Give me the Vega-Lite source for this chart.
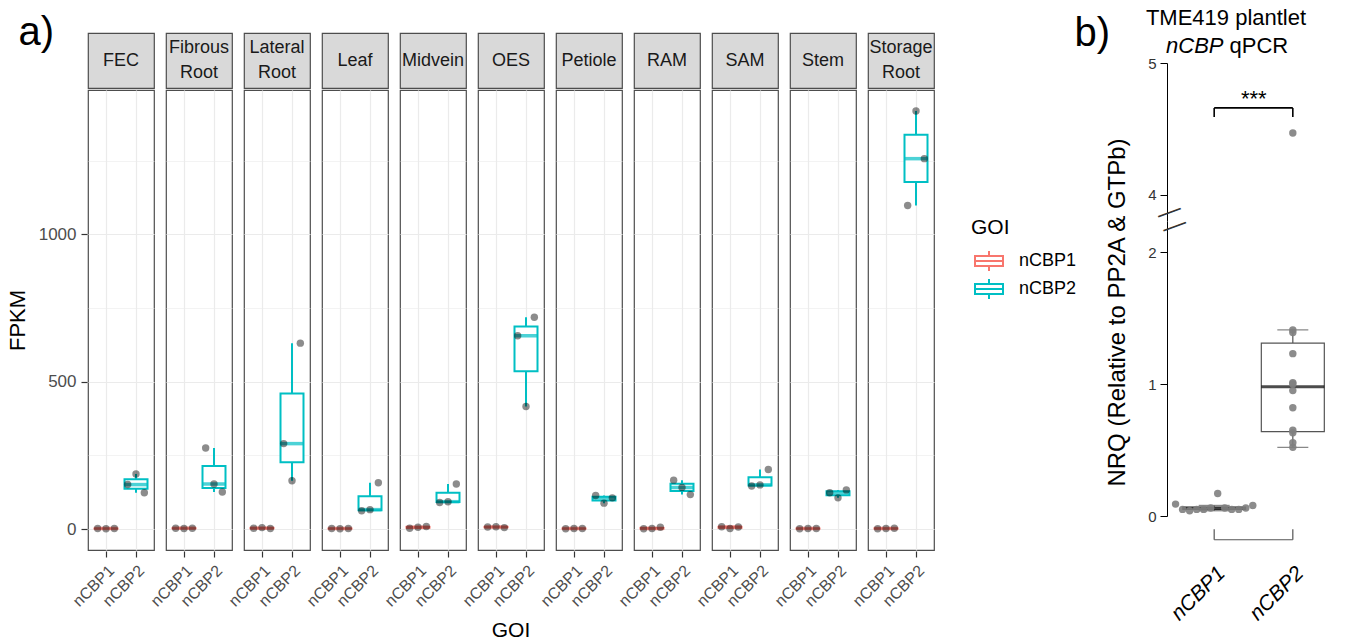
{
  "$schema": "https://vega.github.io/schema/vega-lite/v6.json",
  "background": "white",
  "padding": {"left": 0, "top": 7, "right": 5, "bottom": 0},
  "config": {"font": "Liberation Sans", "view": {"stroke": null}},
  "datasets": {
    "rnaseq": [
      {"kind": "box", "tissue": "FEC", "GOI": "nCBP1", "lower": 1, "q1": 1.5, "median": 2, "q3": 2, "upper": 2},
      {"kind": "box", "tissue": "FEC", "GOI": "nCBP2", "lower": 123, "q1": 137, "median": 151, "q3": 169, "upper": 187},
      {"kind": "box", "tissue": "Fibrous Root", "GOI": "nCBP1", "lower": 2, "q1": 2.5, "median": 3, "q3": 3, "upper": 3},
      {"kind": "box", "tissue": "Fibrous Root", "GOI": "nCBP2", "lower": 126, "q1": 139.5, "median": 153, "q3": 214, "upper": 275},
      {"kind": "box", "tissue": "Lateral Root", "GOI": "nCBP1", "lower": 2, "q1": 2.5, "median": 3, "q3": 4, "upper": 5},
      {"kind": "box", "tissue": "Lateral Root", "GOI": "nCBP2", "lower": 164, "q1": 227, "median": 290, "q3": 460.5, "upper": 631},
      {"kind": "box", "tissue": "Leaf", "GOI": "nCBP1", "lower": 1, "q1": 1.5, "median": 2, "q3": 2, "upper": 2},
      {"kind": "box", "tissue": "Leaf", "GOI": "nCBP2", "lower": 62, "q1": 64, "median": 66, "q3": 111.5, "upper": 157},
      {"kind": "box", "tissue": "Midvein", "GOI": "nCBP1", "lower": 3, "q1": 4.5, "median": 6, "q3": 7.5, "upper": 9},
      {"kind": "box", "tissue": "Midvein", "GOI": "nCBP2", "lower": 90, "q1": 91.5, "median": 93, "q3": 123, "upper": 153},
      {"kind": "box", "tissue": "OES", "GOI": "nCBP1", "lower": 5, "q1": 6, "median": 7, "q3": 7.5, "upper": 8},
      {"kind": "box", "tissue": "OES", "GOI": "nCBP2", "lower": 416, "q1": 536, "median": 656, "q3": 687.5, "upper": 719},
      {"kind": "box", "tissue": "Petiole", "GOI": "nCBP1", "lower": 1, "q1": 1.5, "median": 2, "q3": 2, "upper": 2},
      {"kind": "box", "tissue": "Petiole", "GOI": "nCBP2", "lower": 88, "q1": 97, "median": 106, "q3": 110, "upper": 114},
      {"kind": "box", "tissue": "RAM", "GOI": "nCBP1", "lower": 1, "q1": 1.5, "median": 2, "q3": 4, "upper": 6},
      {"kind": "box", "tissue": "RAM", "GOI": "nCBP2", "lower": 117, "q1": 129, "median": 141, "q3": 153.5, "upper": 166},
      {"kind": "box", "tissue": "SAM", "GOI": "nCBP1", "lower": 2, "q1": 4.5, "median": 7, "q3": 7.5, "upper": 8},
      {"kind": "box", "tissue": "SAM", "GOI": "nCBP2", "lower": 146, "q1": 148, "median": 150, "q3": 176, "upper": 202},
      {"kind": "box", "tissue": "Stem", "GOI": "nCBP1", "lower": 1, "q1": 1.5, "median": 2, "q3": 2, "upper": 2},
      {"kind": "box", "tissue": "Stem", "GOI": "nCBP2", "lower": 106, "q1": 114.5, "median": 123, "q3": 128, "upper": 133},
      {"kind": "box", "tissue": "Storage Root", "GOI": "nCBP1", "lower": 1, "q1": 1.5, "median": 2, "q3": 2.5, "upper": 3},
      {"kind": "box", "tissue": "Storage Root", "GOI": "nCBP2", "lower": 1098, "q1": 1177.5, "median": 1257, "q3": 1338, "upper": 1419},
      {"kind": "pt", "tissue": "FEC", "GOI": "nCBP1", "rep": 1, "FPKM": 2},
      {"kind": "pt", "tissue": "FEC", "GOI": "nCBP1", "rep": 2, "FPKM": 1},
      {"kind": "pt", "tissue": "FEC", "GOI": "nCBP1", "rep": 3, "FPKM": 2},
      {"kind": "pt", "tissue": "FEC", "GOI": "nCBP2", "rep": 1, "FPKM": 151},
      {"kind": "pt", "tissue": "FEC", "GOI": "nCBP2", "rep": 2, "FPKM": 187},
      {"kind": "pt", "tissue": "FEC", "GOI": "nCBP2", "rep": 3, "FPKM": 123},
      {"kind": "pt", "tissue": "Fibrous Root", "GOI": "nCBP1", "rep": 1, "FPKM": 3},
      {"kind": "pt", "tissue": "Fibrous Root", "GOI": "nCBP1", "rep": 2, "FPKM": 2},
      {"kind": "pt", "tissue": "Fibrous Root", "GOI": "nCBP1", "rep": 3, "FPKM": 3},
      {"kind": "pt", "tissue": "Fibrous Root", "GOI": "nCBP2", "rep": 1, "FPKM": 275},
      {"kind": "pt", "tissue": "Fibrous Root", "GOI": "nCBP2", "rep": 2, "FPKM": 153},
      {"kind": "pt", "tissue": "Fibrous Root", "GOI": "nCBP2", "rep": 3, "FPKM": 126},
      {"kind": "pt", "tissue": "Lateral Root", "GOI": "nCBP1", "rep": 1, "FPKM": 3},
      {"kind": "pt", "tissue": "Lateral Root", "GOI": "nCBP1", "rep": 2, "FPKM": 5},
      {"kind": "pt", "tissue": "Lateral Root", "GOI": "nCBP1", "rep": 3, "FPKM": 2},
      {"kind": "pt", "tissue": "Lateral Root", "GOI": "nCBP2", "rep": 1, "FPKM": 290},
      {"kind": "pt", "tissue": "Lateral Root", "GOI": "nCBP2", "rep": 2, "FPKM": 164},
      {"kind": "pt", "tissue": "Lateral Root", "GOI": "nCBP2", "rep": 3, "FPKM": 631},
      {"kind": "pt", "tissue": "Leaf", "GOI": "nCBP1", "rep": 1, "FPKM": 2},
      {"kind": "pt", "tissue": "Leaf", "GOI": "nCBP1", "rep": 2, "FPKM": 1},
      {"kind": "pt", "tissue": "Leaf", "GOI": "nCBP1", "rep": 3, "FPKM": 2},
      {"kind": "pt", "tissue": "Leaf", "GOI": "nCBP2", "rep": 1, "FPKM": 62},
      {"kind": "pt", "tissue": "Leaf", "GOI": "nCBP2", "rep": 2, "FPKM": 66},
      {"kind": "pt", "tissue": "Leaf", "GOI": "nCBP2", "rep": 3, "FPKM": 157},
      {"kind": "pt", "tissue": "Midvein", "GOI": "nCBP1", "rep": 1, "FPKM": 3},
      {"kind": "pt", "tissue": "Midvein", "GOI": "nCBP1", "rep": 2, "FPKM": 6},
      {"kind": "pt", "tissue": "Midvein", "GOI": "nCBP1", "rep": 3, "FPKM": 9},
      {"kind": "pt", "tissue": "Midvein", "GOI": "nCBP2", "rep": 1, "FPKM": 90},
      {"kind": "pt", "tissue": "Midvein", "GOI": "nCBP2", "rep": 2, "FPKM": 93},
      {"kind": "pt", "tissue": "Midvein", "GOI": "nCBP2", "rep": 3, "FPKM": 153},
      {"kind": "pt", "tissue": "OES", "GOI": "nCBP1", "rep": 1, "FPKM": 7},
      {"kind": "pt", "tissue": "OES", "GOI": "nCBP1", "rep": 2, "FPKM": 8},
      {"kind": "pt", "tissue": "OES", "GOI": "nCBP1", "rep": 3, "FPKM": 5},
      {"kind": "pt", "tissue": "OES", "GOI": "nCBP2", "rep": 1, "FPKM": 656},
      {"kind": "pt", "tissue": "OES", "GOI": "nCBP2", "rep": 2, "FPKM": 416},
      {"kind": "pt", "tissue": "OES", "GOI": "nCBP2", "rep": 3, "FPKM": 719},
      {"kind": "pt", "tissue": "Petiole", "GOI": "nCBP1", "rep": 1, "FPKM": 1},
      {"kind": "pt", "tissue": "Petiole", "GOI": "nCBP1", "rep": 2, "FPKM": 2},
      {"kind": "pt", "tissue": "Petiole", "GOI": "nCBP1", "rep": 3, "FPKM": 2},
      {"kind": "pt", "tissue": "Petiole", "GOI": "nCBP2", "rep": 1, "FPKM": 114},
      {"kind": "pt", "tissue": "Petiole", "GOI": "nCBP2", "rep": 2, "FPKM": 88},
      {"kind": "pt", "tissue": "Petiole", "GOI": "nCBP2", "rep": 3, "FPKM": 106},
      {"kind": "pt", "tissue": "RAM", "GOI": "nCBP1", "rep": 1, "FPKM": 1},
      {"kind": "pt", "tissue": "RAM", "GOI": "nCBP1", "rep": 2, "FPKM": 2},
      {"kind": "pt", "tissue": "RAM", "GOI": "nCBP1", "rep": 3, "FPKM": 6},
      {"kind": "pt", "tissue": "RAM", "GOI": "nCBP2", "rep": 1, "FPKM": 166},
      {"kind": "pt", "tissue": "RAM", "GOI": "nCBP2", "rep": 2, "FPKM": 141},
      {"kind": "pt", "tissue": "RAM", "GOI": "nCBP2", "rep": 3, "FPKM": 117},
      {"kind": "pt", "tissue": "SAM", "GOI": "nCBP1", "rep": 1, "FPKM": 8},
      {"kind": "pt", "tissue": "SAM", "GOI": "nCBP1", "rep": 2, "FPKM": 2},
      {"kind": "pt", "tissue": "SAM", "GOI": "nCBP1", "rep": 3, "FPKM": 7},
      {"kind": "pt", "tissue": "SAM", "GOI": "nCBP2", "rep": 1, "FPKM": 146},
      {"kind": "pt", "tissue": "SAM", "GOI": "nCBP2", "rep": 2, "FPKM": 150},
      {"kind": "pt", "tissue": "SAM", "GOI": "nCBP2", "rep": 3, "FPKM": 202},
      {"kind": "pt", "tissue": "Stem", "GOI": "nCBP1", "rep": 1, "FPKM": 1},
      {"kind": "pt", "tissue": "Stem", "GOI": "nCBP1", "rep": 2, "FPKM": 2},
      {"kind": "pt", "tissue": "Stem", "GOI": "nCBP1", "rep": 3, "FPKM": 2},
      {"kind": "pt", "tissue": "Stem", "GOI": "nCBP2", "rep": 1, "FPKM": 123},
      {"kind": "pt", "tissue": "Stem", "GOI": "nCBP2", "rep": 2, "FPKM": 106},
      {"kind": "pt", "tissue": "Stem", "GOI": "nCBP2", "rep": 3, "FPKM": 133},
      {"kind": "pt", "tissue": "Storage Root", "GOI": "nCBP1", "rep": 1, "FPKM": 1},
      {"kind": "pt", "tissue": "Storage Root", "GOI": "nCBP1", "rep": 2, "FPKM": 2},
      {"kind": "pt", "tissue": "Storage Root", "GOI": "nCBP1", "rep": 3, "FPKM": 3},
      {"kind": "pt", "tissue": "Storage Root", "GOI": "nCBP2", "rep": 1, "FPKM": 1098},
      {"kind": "pt", "tissue": "Storage Root", "GOI": "nCBP2", "rep": 2, "FPKM": 1419},
      {"kind": "pt", "tissue": "Storage Root", "GOI": "nCBP2", "rep": 3, "FPKM": 1257}
    ],
    "qpcr": [
      {"GOI": "nCBP1", "rep": 1, "NRQ": 0.09},
      {"GOI": "nCBP1", "rep": 2, "NRQ": 0.05},
      {"GOI": "nCBP1", "rep": 3, "NRQ": 0.04},
      {"GOI": "nCBP1", "rep": 4, "NRQ": 0.05},
      {"GOI": "nCBP1", "rep": 5, "NRQ": 0.05},
      {"GOI": "nCBP1", "rep": 6, "NRQ": 0.06},
      {"GOI": "nCBP1", "rep": 7, "NRQ": 0.17},
      {"GOI": "nCBP1", "rep": 8, "NRQ": 0.06},
      {"GOI": "nCBP1", "rep": 9, "NRQ": 0.05},
      {"GOI": "nCBP1", "rep": 10, "NRQ": 0.05},
      {"GOI": "nCBP1", "rep": 11, "NRQ": 0.06},
      {"GOI": "nCBP1", "rep": 12, "NRQ": 0.08},
      {"GOI": "nCBP2", "rep": 1, "NRQ": 1.41},
      {"GOI": "nCBP2", "rep": 2, "NRQ": 1.39},
      {"GOI": "nCBP2", "rep": 3, "NRQ": 1.23},
      {"GOI": "nCBP2", "rep": 4, "NRQ": 1.01},
      {"GOI": "nCBP2", "rep": 5, "NRQ": 1.0},
      {"GOI": "nCBP2", "rep": 6, "NRQ": 0.95},
      {"GOI": "nCBP2", "rep": 7, "NRQ": 0.82},
      {"GOI": "nCBP2", "rep": 8, "NRQ": 0.65},
      {"GOI": "nCBP2", "rep": 9, "NRQ": 0.63},
      {"GOI": "nCBP2", "rep": 10, "NRQ": 0.555},
      {"GOI": "nCBP2", "rep": 11, "NRQ": 0.52},
      {"GOI": "nCBP2", "rep": 12, "NRQ": 4.47}
    ],
    "qbox": [
      {"GOI": "nCBP1", "lower": 0.04, "q1": 0.05, "median": 0.058, "q3": 0.068, "upper": 0.08},
      {"GOI": "nCBP2", "lower": 0.52, "q1": 0.64, "median": 0.98, "q3": 1.31, "upper": 1.41}
    ],
    "sig": [{"group1": "nCBP1", "group2": "nCBP2", "label": "***"}]
  },
  "resolve": {"scale": {"x": "independent", "y": "independent", "color": "independent", "stroke": "independent", "xOffset": "independent"}},
  "spacing": -3,
  "hconcat": [
    {
      "spacing": 0,
      "resolve": {"scale": {"x": "independent", "y": "independent"}},
      "vconcat": [
        {
          "data": {"name": "rnaseq"},
          "transform": [{"filter": "datum.kind === 'box' && datum.GOI === 'nCBP1'"}],
          "facet": {"column": {"field": "tissue", "type": "nominal", "header": {"labels": false, "title": null}}},
          "spacing": 10,
          "spec": {
            "width": 66,
            "height": 55,
            "view": {"fill": "#D9D9D9", "stroke": "#4D4D4D", "strokeWidth": 1.2},
            "encoding": {
              "y": {"datum": 0, "type": "quantitative", "scale": {"domain": [-1, 1]},
                "axis": {"values": [0], "labelExpr": "'00000000'", "labelColor": "transparent", "labelFontSize": 17, "labelPadding": 5, "tickSize": 6, "tickColor": "transparent", "domain": false, "grid": false, "title": "a)", "titleFontSize": 40, "titleFontWeight": "normal", "titleColor": "black", "titleAngle": 0, "titleAlign": "left", "titleBaseline": "alphabetic", "titleX": -69, "titleY": 11}},
              "text": {"field": "tissue", "type": "nominal"}
            },
            "layer": [
              {
                "transform": [{"filter": "indexof(datum.tissue, ' ') < 0"}],
                "mark": {"type": "text", "fontSize": 18, "color": "#1A1A1A", "baseline": "middle"}
              },
              {
                "transform": [{"filter": "indexof(datum.tissue, ' ') >= 0"}],
                "mark": {"type": "text", "lineBreak": " ", "fontSize": 18, "color": "#1A1A1A", "lineHeight": 25, "baseline": "middle", "dy": -12.5}
              }
            ]
          }
        },
        {
          "data": {"name": "rnaseq"},
          "facet": {"column": {"field": "tissue", "type": "nominal", "header": {"labels": false, "title": "GOI", "titleOrient": "bottom", "titleFontSize": 21, "titleFontWeight": "normal", "titleColor": "black", "titlePadding": 0}}},
          "spacing": 10,
          "spec": {
            "width": 66,
            "height": 460,
            "view": {"stroke": "#4D4D4D", "strokeWidth": 1.2},
            "encoding": {
              "x": {"field": "GOI", "type": "nominal", "scale": {"paddingInner": 0, "paddingOuter": 0.1},
                "axis": {"title": null, "labelAngle": -45, "labelAlign": "right", "labelBaseline": "top", "labelFontSize": 16, "labelColor": "#4D4D4D", "labelPadding": 5, "tickColor": "#333333", "tickSize": 6, "tickWidth": 1.2, "domain": false, "grid": true, "gridColor": "#EBEBEB", "gridWidth": 1.2, "bandPosition": 0.5}}
            },
            "layer": [
              {
                "transform": [{"filter": "datum.kind === 'box'"}],
                "mark": {"type": "rule", "strokeWidth": 2},
                "encoding": {
                  "y": {"field": "lower", "type": "quantitative", "title": "FPKM",
                    "scale": {"domain": [-71, 1490], "nice": false, "zero": false},
                    "axis": {"title": "FPKM", "values": [0, 250, 500, 750, 1000, 1250], "labelExpr": "datum.value % 500 === 0 ? datum.label : '00000000'", "format": "d", "labelFontSize": 17, "labelColor": {"condition": {"test": "datum.value % 500 === 0", "value": "#4D4D4D"}, "value": "transparent"}, "labelPadding": 5, "tickColor": "#333333", "tickSize": 6, "tickWidth": 1.2, "tickOpacity": {"condition": {"test": "datum.value % 500 === 0", "value": 1}, "value": 0}, "gridColor": "#EBEBEB", "gridWidth": {"condition": {"test": "datum.value % 500 === 0", "value": 1.2}, "value": 0.6}, "domain": false, "titleFontSize": 22, "titleFontWeight": "normal", "titleColor": "black", "titleAngle": -90, "titleAlign": "center", "titleBaseline": "top", "titleX": -80, "titleY": 230}},
                  "y2": {"field": "upper"},
                  "stroke": {"field": "GOI", "type": "nominal", "scale": {"range": ["#F8766D", "#00BFC4"]},
                    "legend": {"orient": "none", "legendX": 883, "legendY": 184, "title": "GOI", "titleFontSize": 21, "titleFontWeight": "normal", "titleColor": "black", "labelFontSize": 18, "labelColor": "black", "symbolType": "M-0.7,-0.5L2.1,-0.5L2.1,0.5L-0.7,0.5Z M-0.7,0L2.1,0 M0.7,-0.5L0.7,-1 M0.7,0.5L0.7,1", "symbolSize": 400, "symbolStrokeWidth": 2, "symbolFillColor": "white", "rowPadding": 0, "titlePadding": 12, "labelOffset": 26}}
                }
              },
              {
                "transform": [{"filter": "datum.kind === 'box'"}],
                "mark": {"type": "bar", "fill": "white", "strokeWidth": 2, "size": 23},
                "encoding": {
                  "y": {"field": "q1", "type": "quantitative", "title": "FPKM"},
                  "y2": {"field": "q3"},
                  "stroke": {"field": "GOI", "type": "nominal"}
                }
              },
              {
                "transform": [{"filter": "datum.kind === 'box'"}],
                "mark": {"type": "tick", "thickness": 3.5, "size": 23},
                "encoding": {
                  "y": {"field": "median", "type": "quantitative", "title": "FPKM"},
                  "color": {"field": "GOI", "type": "nominal", "scale": {"range": ["#F8766D", "#00BFC4"]}, "legend": null}
                }
              },
              {
                "transform": [{"filter": "datum.kind === 'pt'"}],
                "mark": {"type": "circle", "size": 55, "color": "black", "opacity": 0.45},
                "encoding": {
                  "y": {"field": "FPKM", "type": "quantitative", "title": "FPKM"},
                  "xOffset": {"field": "rep", "type": "ordinal", "scale": {"paddingInner": 0, "paddingOuter": 0.8}}
                }
              }
            ]
          }
        }
      ]
    },
    {
      "bounds": "flush",
      "spacing": 0,
      "resolve": {"scale": {"x": "independent", "y": "independent", "xOffset": "independent"}},
      "vconcat": [
        {
          "width": 173,
          "height": 30,
          "data": {"name": "sig"},
          "layer": [
            {"mark": {"type": "text", "text": "TME419 plantlet", "fontSize": 22, "color": "black", "align": "center", "baseline": "middle", "dx": -27.5, "dy": -30}, "encoding": {}},
            {"mark": {"type": "text", "text": "nCBP", "fontSize": 22, "fontStyle": "italic", "color": "black", "align": "right", "baseline": "middle", "dx": -30, "dy": -2}, "encoding": {}},
            {"mark": {"type": "text", "text": "qPCR", "fontSize": 22, "color": "black", "align": "left", "baseline": "middle", "dx": -24, "dy": -2}, "encoding": {}}
          ]
        },
        {
          "width": 173,
          "height": 158,
          "layer": [
            {
              "data": {"name": "qpcr"},
              "transform": [{"filter": "datum.NRQ >= 3.8"}],
              "mark": {"type": "circle", "size": 55, "color": "#7F7F7F", "opacity": 0.9},
              "encoding": {
                "x": {"field": "GOI", "type": "nominal", "scale": {"domain": ["nCBP1", "nCBP2"], "paddingInner": 0, "paddingOuter": 0.1}, "axis": null},
                "y": {"field": "NRQ", "type": "quantitative", "scale": {"domain": [3.803, 5], "nice": false, "zero": false},
                  "axis": {"values": [4, 5], "format": "d", "grid": false, "domainColor": "black", "tickColor": "black", "tickSize": 7, "labelFontSize": 15, "labelColor": "#333333", "labelPadding": 4, "title": "b)", "titleFontSize": 40, "titleFontWeight": "normal", "titleColor": "black", "titleAngle": 0, "titleAlign": "left", "titleBaseline": "alphabetic", "titleX": -93, "titleY": -18}}
              }
            },
            {
              "data": {"name": "sig"},
              "mark": {"type": "rule", "color": "black", "strokeWidth": 1.6},
              "encoding": {
                "x": {"field": "group1", "type": "nominal", "bandPosition": 0.5},
                "x2": {"field": "group2", "bandPosition": 0.5},
                "y": {"datum": 4.66}
              }
            },
            {
              "data": {"name": "sig"},
              "mark": {"type": "rule", "color": "black", "strokeWidth": 1.6},
              "encoding": {
                "x": {"field": "group1", "type": "nominal"},
                "y": {"datum": 4.66},
                "y2": {"datum": 4.59}
              }
            },
            {
              "data": {"name": "sig"},
              "mark": {"type": "rule", "color": "black", "strokeWidth": 1.6},
              "encoding": {
                "x": {"field": "group2", "type": "nominal"},
                "y": {"datum": 4.66},
                "y2": {"datum": 4.59}
              }
            },
            {
              "data": {"name": "sig"},
              "mark": {"type": "text", "fontSize": 22, "dx": -39, "baseline": "alphabetic", "color": "black"},
              "encoding": {
                "x": {"field": "group2", "type": "nominal"},
                "y": {"datum": 4.675},
                "text": {"field": "label"}
              }
            }
          ]
        },
        {
          "width": 173,
          "height": 295,
          "encoding": {
            "x": {"field": "GOI", "type": "nominal", "scale": {"domain": ["nCBP1", "nCBP2"], "paddingInner": 0, "paddingOuter": 0.1},
              "axis": {"title": null, "domain": false, "ticks": false, "labelAngle": -45, "labelAlign": "right", "labelBaseline": "top", "labelFontSize": 21, "labelFontStyle": "italic", "labelColor": "black", "labelPadding": 46}}
          },
          "layer": [
            {
              "data": {"name": "qbox"},
              "mark": {"type": "rule", "color": "#555555", "strokeWidth": 1.2},
              "encoding": {
                "y": {"field": "lower", "type": "quantitative", "scale": {"domain": [0, 2.235], "nice": false, "zero": false},
                  "axis": {"values": [0, 1, 2], "format": "d", "title": "NRQ (Relative to PP2A & GTPb)", "grid": false, "domainColor": "black", "tickColor": "black", "tickSize": 7, "labelFontSize": 15, "labelColor": "#333333", "labelPadding": 4, "titleFontSize": 24, "titleFontWeight": "normal", "titleColor": "black", "titleX": -50, "titleY": 91, "titleAlign": "center", "titleBaseline": "middle", "titleAngle": -90}},
                "y2": {"field": "upper"}
              }
            },
            {
              "data": {"name": "qbox"},
              "mark": {"type": "tick", "color": "#555555", "thickness": 1.3, "size": 31},
              "encoding": {"y": {"field": "lower", "type": "quantitative"}}
            },
            {
              "data": {"name": "qbox"},
              "mark": {"type": "tick", "color": "#555555", "thickness": 1.3, "size": 31},
              "encoding": {"y": {"field": "upper", "type": "quantitative"}}
            },
            {
              "data": {"name": "qbox"},
              "mark": {"type": "bar", "fill": "white", "stroke": "#555555", "strokeWidth": 1.2, "size": 63},
              "encoding": {"y": {"field": "q1", "type": "quantitative"}, "y2": {"field": "q3"}}
            },
            {
              "data": {"name": "qbox"},
              "mark": {"type": "tick", "color": "black", "thickness": 3, "size": 63},
              "encoding": {"y": {"field": "median", "type": "quantitative"}}
            },
            {
              "data": {"name": "qpcr"},
              "transform": [{"filter": "datum.GOI === 'nCBP1'"}],
              "mark": {"type": "circle", "size": 55, "color": "#7F7F7F", "opacity": 0.9},
              "encoding": {
                "y": {"field": "NRQ", "type": "quantitative"},
                "xOffset": {"field": "rep", "type": "ordinal", "scale": {"paddingInner": 0, "paddingOuter": 0.1}}
              }
            },
            {
              "data": {"name": "qpcr"},
              "transform": [{"filter": "datum.GOI === 'nCBP2' && datum.NRQ < 2.2"}],
              "mark": {"type": "circle", "size": 55, "color": "#7F7F7F", "opacity": 0.9},
              "encoding": {"y": {"field": "NRQ", "type": "quantitative"}}
            },
            {
              "data": {"name": "sig"},
              "mark": {"type": "rule", "color": "#555555", "strokeWidth": 1.2},
              "encoding": {
                "x": {"field": "group1", "type": "nominal", "bandPosition": 0.5},
                "x2": {"field": "group2", "bandPosition": 0.5},
                "y": {"datum": -0.18}
              }
            },
            {
              "data": {"name": "sig"},
              "mark": {"type": "rule", "color": "#555555", "strokeWidth": 1.2},
              "encoding": {"x": {"field": "group1", "type": "nominal"}, "y": {"datum": -0.18}, "y2": {"datum": -0.1}}
            },
            {
              "data": {"name": "sig"},
              "mark": {"type": "rule", "color": "#555555", "strokeWidth": 1.2},
              "encoding": {"x": {"field": "group2", "type": "nominal"}, "y": {"datum": -0.18}, "y2": {"datum": -0.1}}
            },
            {
              "data": {"name": "sig"},
              "mark": {"type": "text", "text": "—\n—", "lineBreak": "\n", "lineHeight": 15, "fontSize": 24, "angle": -20, "align": "center", "baseline": "middle", "color": "#333333", "dx": -6},
              "encoding": {"x": {"datum": "nCBP1", "bandPosition": 0}, "y": {"datum": 2.32}}
            }
          ]
        }
      ]
    }
  ]
}
